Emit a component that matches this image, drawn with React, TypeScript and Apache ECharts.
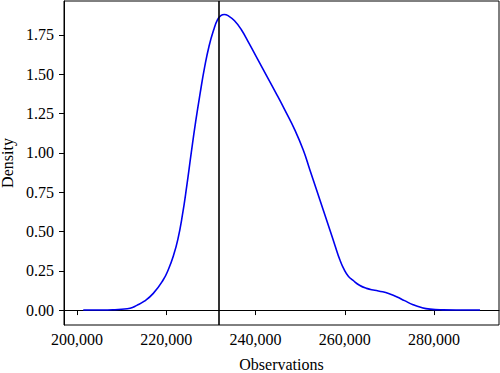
import React, { useEffect, useRef } from "react";
import * as echarts from "echarts";

const obsX: number[] = [
  201400, 205000, 208000, 210000, 211900, 213400, 215000, 217100, 219300, 220500,
  221600, 222600, 223600, 224600, 225600, 226600, 227600, 228600, 229600, 230600,
  231500, 232300, 233000, 234000, 235300, 236800, 238500, 240500, 242500, 244500,
  246590, 248830, 250700, 252190, 253690, 255180, 256670, 257790, 258900, 259900,
  260800, 261800, 263300, 264900, 266700, 268500, 270100, 271600, 273400, 275300,
  277200, 279100, 282000, 286000, 290300,
];
const densityY: number[] = [
  0.0, 0.0005, 0.002, 0.005, 0.012, 0.03, 0.055, 0.106, 0.191, 0.26,
  0.345, 0.45, 0.6, 0.79, 1.0, 1.2, 1.38, 1.545, 1.68, 1.78,
  1.847, 1.874, 1.88, 1.87, 1.84, 1.785, 1.7, 1.595, 1.49, 1.385,
  1.272, 1.145, 1.018, 0.891, 0.763, 0.636, 0.509, 0.413, 0.32, 0.255,
  0.215, 0.19, 0.158, 0.138, 0.126, 0.116, 0.102, 0.085, 0.06, 0.034,
  0.016, 0.006, 0.0015, 0.0003, 0.0,
];
const xTicks: number[] = [200000, 220000, 240000, 260000, 280000];
const yTicks: number[] = [0, 0.25, 0.5, 0.75, 1.0, 1.25, 1.5, 1.75];
const markerX = 231870;

const FONT = "Liberation Serif";

export default function App() {
  const ref = useRef<HTMLDivElement>(null);
  useEffect(() => {
    if (!ref.current) return;
    const chart = echarts.init(ref.current, undefined, { renderer: "svg" });
    const data = obsX.map((x, i) => [x, densityY[i]]);
    chart.setOption({
      animation: false,
      backgroundColor: "#ffffff",
      grid: {
        left: 64,
        right: 1,
        top: 1,
        bottom: 48,
        outerBoundsMode: "none",
        containLabel: false,
        show: true,
        borderColor: "#000000",
        borderWidth: 1,
        backgroundColor: "transparent",
      },
      xAxis: {
        type: "value",
        min: 197090,
        max: 294560,
        name: "Observations",
        nameLocation: "middle",
        nameGap: 31,
        nameTextStyle: { fontFamily: FONT, fontSize: 16, color: "#000" },
        axisLine: { show: true, lineStyle: { color: "#000", width: 1 } },
        axisTick: {
          show: true,
          length: 5,
          customValues: xTicks,
          lineStyle: { color: "#000" },
        },
        axisLabel: {
          customValues: xTicks,
          margin: 6,
          fontFamily: FONT,
          fontSize: 16,
          color: "#000",
          formatter: (v: number) => v.toLocaleString("en-US"),
        },
        splitLine: { show: false },
      },
      yAxis: {
        type: "value",
        min: -0.095,
        max: 1.966,
        name: "Density",
        nameLocation: "middle",
        nameGap: 46,
        nameRotate: 90,
        nameTextStyle: { fontFamily: FONT, fontSize: 16, color: "#000" },
        axisLine: { show: true, lineStyle: { color: "#000", width: 1 } },
        axisTick: {
          show: true,
          length: 5,
          customValues: yTicks,
          lineStyle: { color: "#000" },
        },
        axisLabel: {
          customValues: yTicks,
          margin: 10,
          fontFamily: FONT,
          fontSize: 16,
          color: "#000",
          formatter: (v: number) => v.toFixed(2),
        },
        splitLine: { show: false },
      },
      series: [
        {
          type: "line",
          data,
          smooth: 0.5,
          showSymbol: false,
          lineStyle: { color: "#0000ee", width: 1.6 },
          markLine: {
            silent: true,
            symbol: "none",
            label: { show: false },
            lineStyle: { color: "#000", width: 1.6, type: "solid" },
            data: [{ xAxis: markerX }],
          },
        },
      ],
    });
    return () => chart.dispose();
  }, []);
  return <div ref={ref} style={{ width: 500, height: 373, position: "absolute", left: 0, top: 0 }} />;
}
